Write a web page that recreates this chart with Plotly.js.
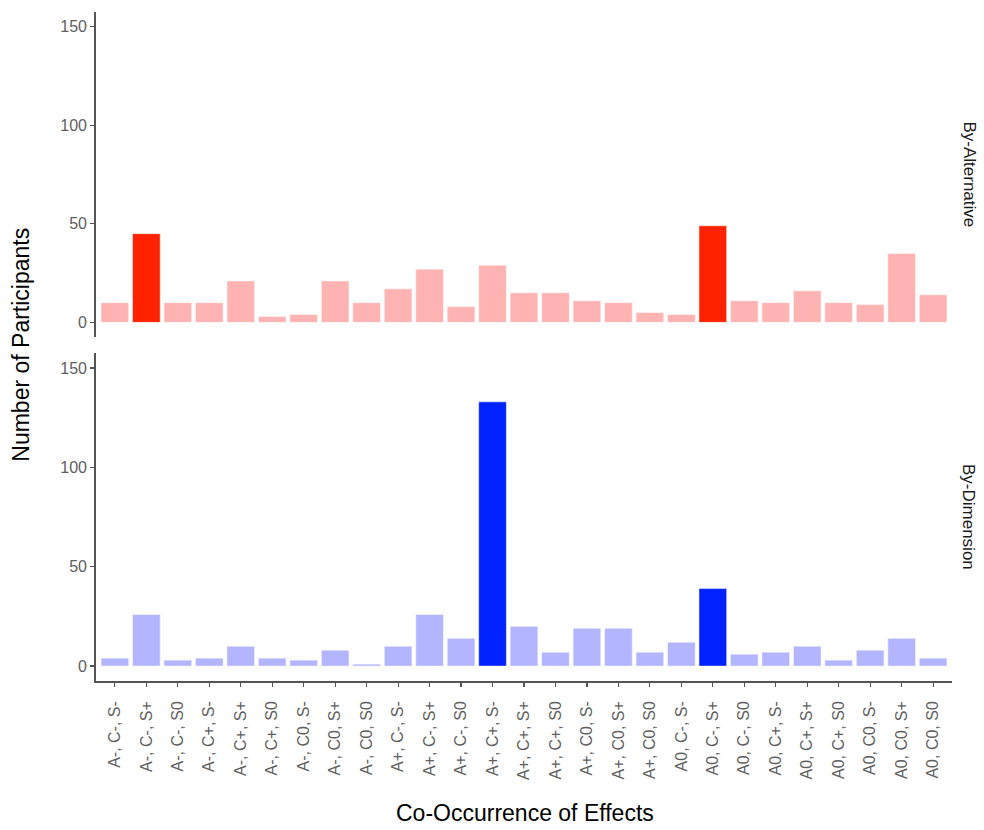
<!DOCTYPE html>
<html>
<head>
<meta charset="utf-8">
<script src="https://cdn.plot.ly/plotly-3.0.1.min.js"></script>
<style>html,body{margin:0;padding:0;background:#fff;}</style>
</head>
<body>
<div id="chart" style="width:984px;height:830px;"></div>
<script>
const categories = [
  "A-, C-, S-","A-, C-, S+","A-, C-, S0","A-, C+, S-","A-, C+, S+","A-, C+, S0",
  "A-, C0, S-","A-, C0, S+","A-, C0, S0","A+, C-, S-","A+, C-, S+","A+, C-, S0",
  "A+, C+, S-","A+, C+, S+","A+, C+, S0","A+, C0, S-","A+, C0, S+","A+, C0, S0",
  "A0, C-, S-","A0, C-, S+","A0, C-, S0","A0, C+, S-","A0, C+, S+","A0, C+, S0",
  "A0, C0, S-","A0, C0, S+","A0, C0, S0"
];
const byAlternative = [10,45,10,10,21,3,4,21,10,17,27,8,29,15,15,11,10,5,4,49,11,10,16,10,9,35,14];
const byDimension   = [4,26,3,4,10,4,3,8,1,10,26,14,133,20,7,19,19,7,12,39,6,7,10,3,8,14,4];
const highlightAlternative = ["A-, C-, S+","A0, C-, S+"];
const highlightDimension = ["A+, C+, S-","A0, C-, S+"];
const yTicks = [0,50,100,150];

const redStrong = "#FF2200", redLight = "#FFB3B3";
const blueStrong = "#0022FF", blueLight = "#B3B6FF";

const traces = [
  {
    type: "bar", x: categories, y: byAlternative, xaxis: "x2", yaxis: "y2",
    width: 0.88,
    marker: { color: categories.map(c => highlightAlternative.includes(c) ? redStrong : redLight),
              line: { color: "#fff", width: 0.5 } },
    showlegend: false, hoverinfo: "x+y"
  },
  {
    type: "bar", x: categories, y: byDimension, xaxis: "x", yaxis: "y",
    width: 0.88,
    marker: { color: categories.map(c => highlightDimension.includes(c) ? blueStrong : blueLight),
              line: { color: "#fff", width: 0.5 } },
    showlegend: false, hoverinfo: "x+y"
  }
];

const font = { family: "Liberation Sans, Arial, sans-serif" };
const yAxisCommon = {
  range: [-7.5, 157.5], tickvals: yTicks, ticktext: yTicks.map(String),
  showgrid: false, zeroline: false, showline: true, linecolor: "#555", linewidth: 1.8,
  ticks: "outside", ticklen: 4, tickcolor: "#555", tickwidth: 1.2,
  tickfont: { family: font.family, size: 16, color: "#606060" }, fixedrange: true
};

const layout = {
  width: 984, height: 830,
  margin: { l: 96, r: 32, t: 12, b: 149 },
  paper_bgcolor: "#fff", plot_bgcolor: "#fff",
  bargap: 0.1,
  font: font,
  xaxis: {
    type: "category", range: [-0.6, 26.6], anchor: "y",
    showgrid: false, zeroline: false, showline: true, linecolor: "#555", linewidth: 1.8,
    ticks: "outside", ticklen: 4, tickcolor: "#555", tickwidth: 1.2,
    ticklabelstandoff: 8,
    tickangle: -90, tickfont: { family: font.family, size: 16, color: "#606060" }
  },
  xaxis2: {
    type: "category", range: [-0.6, 26.6], anchor: "y2", matches: "x",
    showgrid: false, zeroline: false, showline: false, showticklabels: false, ticks: ""
  },
  yaxis: Object.assign({}, yAxisCommon, { domain: [0, 0.49], anchor: "x" }),
  yaxis2: Object.assign({}, yAxisCommon, { domain: [0.514, 1], anchor: "x2" }),
  annotations: [
    { text: "By-Alternative", xref: "paper", yref: "paper", x: 1.02, y: 0.757,
      textangle: 90, showarrow: false, xanchor: "center", yanchor: "middle",
      font: { family: font.family, size: 17, color: "#1a1a1a" } },
    { text: "By-Dimension", xref: "paper", yref: "paper", x: 1.02, y: 0.245,
      textangle: 90, showarrow: false, xanchor: "center", yanchor: "middle",
      font: { family: font.family, size: 17, color: "#1a1a1a" } },
    { text: "Number of Participants", xref: "paper", yref: "paper", x: -0.087, y: 0.502,
      textangle: -90, showarrow: false, xanchor: "center", yanchor: "middle",
      font: { family: font.family, size: 23, color: "#000" } },
    { text: "Co-Occurrence of Effects", xref: "paper", yref: "paper", x: 0.501, y: -0.198,
      showarrow: false, xanchor: "center", yanchor: "middle",
      font: { family: font.family, size: 23, color: "#000" } }
  ]
};

Plotly.newPlot("chart", traces, layout, { staticPlot: true, displayModeBar: false });
</script>
</body>
</html>
